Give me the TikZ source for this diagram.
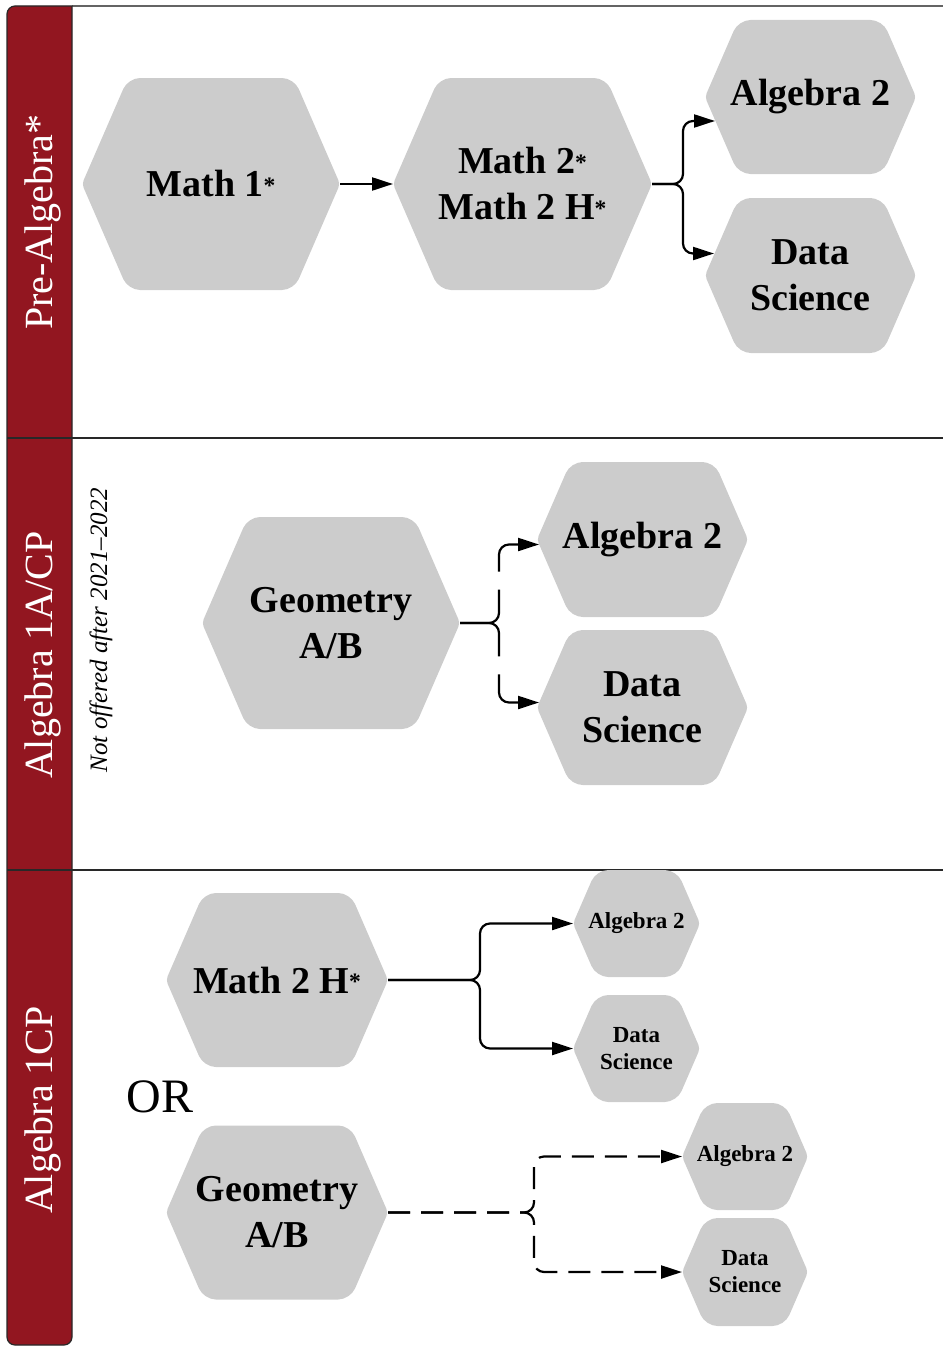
\documentclass[tikz,border=0pt]{standalone}
\usepackage{fontspec}
\setmainfont{Liberation Serif}
\usetikzlibrary{arrows.meta,calc}
\definecolor{band}{RGB}{146,22,32}
\definecolor{hexfill}{RGB}{204,204,204}
\definecolor{rulec}{RGB}{40,40,40}
\definecolor{topc}{RGB}{100,100,100}
\newcommand\smst{\raisebox{0.08em}{\scalebox{0.62}{*}}}
\begin{document}
\begin{tikzpicture}[x=1pt,y=-1pt,
  hex/.style 2 args={minimum width=#1, minimum height=#2, inner sep=0pt, outer sep=0pt,
    align=center, font=\bfseries\fontsize{38}{46}\selectfont,
    path picture={\fill[hexfill]
      (path picture bounding box.north)
      [rounded corners=12pt] -- ([xshift={-0.217*#2}]path picture bounding box.north east)
      [rounded corners=4pt] -- (path picture bounding box.east)
      [rounded corners=12pt] -- ([xshift={-0.217*#2}]path picture bounding box.south east)
      -- ([xshift={0.217*#2}]path picture bounding box.south west)
      [rounded corners=4pt] -- (path picture bounding box.west)
      [rounded corners=12pt] -- ([xshift={0.217*#2}]path picture bounding box.north west)
      -- cycle;}},
  smalltext/.style={font=\bfseries\fontsize{23}{27}\selectfont},
  conn/.style={line width=2.2pt, rounded corners=10pt, -{Triangle[length=21pt,width=13pt]}},
  dashmid/.style={dash pattern=on 68pt off 18pt},
  dashlow/.style={dash pattern=on 22pt off 11pt},
  bandlabel/.style={rotate=90, anchor=base, text=white, font=\fontsize{40}{48}\selectfont, inner sep=0pt},
  notelabel/.style={rotate=90, anchor=base, font=\itshape\fontsize{25}{30}\selectfont, inner sep=0pt}
]
\useasboundingbox (0,0) rectangle (943,1346);
% frame
\draw[topc, line width=2pt] (72,6) -- (943,6);
\draw[fill=band, draw=rulec, line width=1.2pt] (72,6) [rounded corners=8pt] -- (7,6) -- (7,1345) -- (72,1345) [sharp corners] -- cycle;
\draw[rulec, line width=2.5pt] (7,438) -- (943,438);
\draw[rulec, line width=2.5pt] (7,870) -- (943,870);
% band labels
\node[bandlabel] (l1) at (52,222) {Pre-Algebra*};
\node[bandlabel] (l2) at (52,655) {Algebra 1A/CP};
\node[bandlabel] (l3) at (52,1110) {Algebra 1CP};
\node[notelabel] (note) at (107,630) {Not offered after 2021--2022};
% section 1
\node[hex={258}{212}] (m1) at (211,184) {Math 1\smst};
\node[hex={259}{212}] (m2) at (522.5,184) {Math 2\smst\\Math 2 H\smst};
\node[hex={211}{154}] (a1) at (810.5,97) {Algebra 2};
\node[hex={211}{155}] (d1) at (810.5,275.5) {Data\\Science};
\draw[conn] (m1.east) -- (m2.west);
\draw[conn] (m2.east) -| ($(a1.west)+(-22,24)$) -- ($(a1.west)+(10,24)$);
\draw[conn] (m2.east) -| ($(d1.west)+(-22,-22)$) -- ($(d1.west)+(9,-22)$);
% section 2
\node[hex={258}{212}] (g1) at (331,623) {Geometry\\A/B};
\node[hex={211}{155}] (a2) at (642.5,539.5) {Algebra 2};
\node[hex={211}{155}] (d2) at (642.5,707.5) {Data\\Science};
\draw[conn, dashmid] (g1.east) -| ($(a2.west)+(-38,5)$) -- ($(a2.west)+(2,5)$);
\draw[conn, dashmid] (g1.east) -| ($(d2.west)+(-38,-5)$) -- ($(d2.west)+(2,-5)$);
% section 3
\node[hex={222}{174}] (m3) at (277,980) {Math 2 H\smst};
\node[font=\fontsize{48}{56}\selectfont] (or) at (160,1097) {OR};
\node[hex={222}{174}] (g2) at (277,1212.5) {Geometry\\A/B};
\node[hex={127}{107}, smalltext] (a3) at (636.5,923.5) {Algebra 2};
\node[hex={127}{107}, smalltext] (d3) at (636.5,1048.5) {Data\\Science};
\node[hex={126}{107}, smalltext] (a4) at (745,1156.5) {Algebra 2};
\node[hex={126}{108}, smalltext] (d4) at (745,1272) {Data\\Science};
\draw[conn] (m3.east) -| ([xshift=-93pt]a3.west) -- (a3.west);
\draw[conn] (m3.east) -| ([xshift=-93pt]d3.west) -- (d3.west);
\draw[conn, dashlow] (g2.east) -| ([xshift=-148pt]a4.west) -- (a4.west);
\draw[conn, dashlow] (g2.east) -| ([xshift=-148pt]d4.west) -- (d4.west);
\end{tikzpicture}
\end{document}
